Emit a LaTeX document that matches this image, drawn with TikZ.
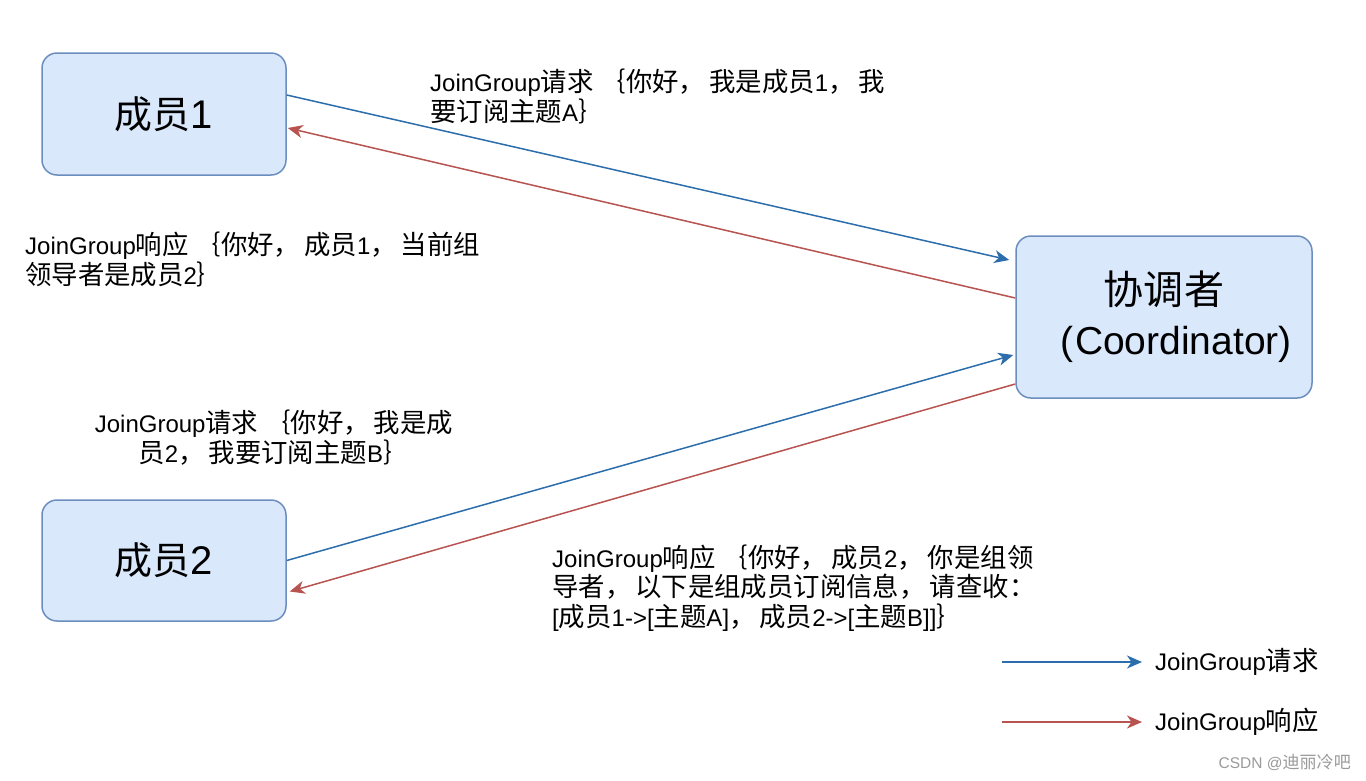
\documentclass[tikz,border=0pt]{standalone}
\usepackage{fontspec}
\setmainfont{Liberation Sans}
\newfontfamily\cjkfont[Scale=1.1]{Noto Sans CJK SC}
\newcommand\zh[1]{{\cjkfont #1}}
\newcommand\cm{\zh{，}\hspace{4pt}}
\newcommand\lb{\hspace{6pt}\zh{｛}}
\usetikzlibrary{arrows.meta}
\definecolor{boxfill}{HTML}{DAE8FC}
\definecolor{boxline}{HTML}{6C8EBF}
\definecolor{reqblue}{HTML}{2C6EAB}
\definecolor{resred}{HTML}{B85450}
\definecolor{wmgray}{HTML}{9A9A9A}
\tikzset{
  entity/.style={draw=boxline, fill=boxfill, line width=1.5pt, rounded corners=15pt, align=center, inner sep=0pt},
  lbl/.style={inner sep=0pt, font={\fontsize{24}{29.5}\selectfont}},
  req/.style={draw=reqblue, line width=1.5pt, -{Stealth[length=15pt,width=13pt,inset=4.5pt]}},
  res/.style={draw=resred, line width=1.5pt, -{Stealth[length=15pt,width=13pt,inset=4.5pt]}},
}
\begin{document}
\begin{tikzpicture}[x=1pt,y=-1pt]
\useasboundingbox (0,0) rectangle (1366,780);
\fill[white] (0,0) rectangle (1366,780);

% boxes
\node[entity, minimum width=244pt, minimum height=122pt, font={\fontsize{40}{44}\selectfont}] (m1) at (164,114) {{\fontsize{34.5}{44}\selectfont\zh{成员}}1};
\node[entity, minimum width=244pt, minimum height=121pt, font={\fontsize{40}{44}\selectfont}] (m2) at (164,560.5) {{\fontsize{34.5}{44}\selectfont\zh{成员}}2};
\node[entity, minimum width=296pt, minimum height=162pt, font={\fontsize{39}{50}\selectfont}] (co) at (1164,317) {{\fontsize{36.4}{50}\selectfont\zh{协调者}}\\\hspace{24pt}(\hspace{2pt}Coordinator)};

% connectors
\draw[req] ([yshift=19pt]m1.east) -- ([xshift=-6pt,yshift=57pt]co.west);
\draw[res] ([yshift=19pt]co.west) -- ([xshift=1pt,yshift=-14pt]m1.east);
\draw[req] (m2.east) -- ([xshift=-2pt,yshift=-38pt]co.west);
\draw[res] ([yshift=-67pt]co.west) -- ([xshift=3pt,yshift=-31pt]m2.east);

% labels
\node[lbl, anchor=west, align=left] (t1) at (430,96.5) {JoinGroup\zh{请求}\lb\zh{你好}\cm\zh{我是成员}1\cm\zh{我}\\\zh{要订阅主题}A\zh{｝}};
\node[lbl, anchor=west, align=left] (t2) at (25,259.5) {JoinGroup\zh{响应}\lb\zh{你好}\cm\zh{成员}1\cm\zh{当前组}\\\zh{领导者是成员}2\zh{｝}};
\node[lbl, align=center] (t3) at (274,437.5) {JoinGroup\zh{请求}\lb\zh{你好}\cm\zh{我是成}\\\zh{员}2\cm\zh{我要订阅主题}B\zh{｝}};
\node[lbl, anchor=west, align=left] (t4) at (552,588) {JoinGroup\zh{响应}\lb\zh{你好}\cm\zh{成员}2\cm\zh{你是组领}\\\zh{导者}\cm\zh{以下是组成员订阅信息}\cm\zh{请查收：}\\\relax[\zh{成员}1->[\zh{主题}A]\cm\zh{成员}2->[\zh{主题}B]]\zh{｝}};

% legend
\coordinate (l1a) at (1002,662);
\coordinate (l1b) at (1142,662);
\coordinate (l2a) at (1002,722);
\coordinate (l2b) at (1142,722);
\draw[req] (l1a) -- (l1b);
\draw[res] (l2a) -- (l2b);
\node[lbl, anchor=west] (lg1) at (1155,662) {JoinGroup\zh{请求}};
\node[lbl, anchor=west] (lg2) at (1155,722) {JoinGroup\zh{响应}};

% watermark
\node[inner sep=0pt, anchor=east, text=wmgray, font={\fontsize{15.5}{18}\selectfont}] (wm) at (1351,762) {CSDN @\zh{迪丽冷吧}};
\end{tikzpicture}
\end{document}
